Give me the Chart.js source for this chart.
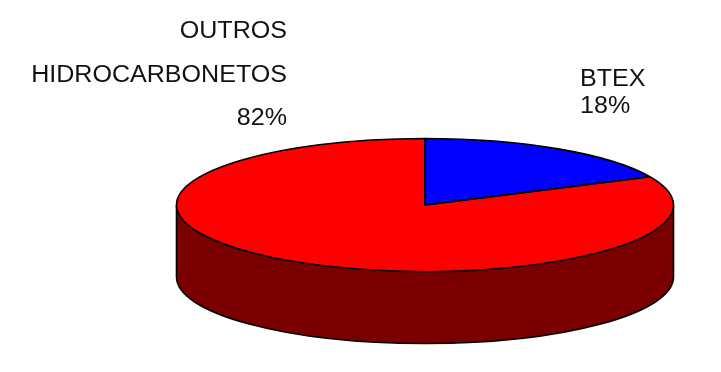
<!DOCTYPE html>
<html>
<head>
<meta charset="utf-8">
<script src="https://cdn.jsdelivr.net/npm/chart.js@4/dist/chart.umd.min.js"></script>
<style>
  html, body { margin: 0; padding: 0; background: #ffffff; }
  #wrap { width: 721px; height: 372px; position: relative; }
</style>
</head>
<body>
<div id="wrap"><canvas id="pie"></canvas></div>
<script>
// Composition of the hydrocarbon fraction (%)
const categories = [['BTEX'], ['OUTROS', 'HIDROCARBONETOS']];
const shares = [18, 82];
const topColors = ['#0000ff', '#ff0000'];
const sideColors = ['#00007a', '#7a0000'];

// Flattened-disc geometry for the 3-D look
const DISC = { rx: 248.5, ry: 66.5, depth: 72, line: 1.6 };

// Label placement: anchor x, first baseline, line step, alignment
const LABEL_POS = [
  { x: 580, y: 86, step: 27, align: 'left' },
  { x: 287, y: 38, step: 43.5, align: 'right' }
];

function arcRanges(s, e) {
  // parts of [s,e] that face the viewer (canvas angles 0..PI, repeated every 2PI)
  const out = [];
  for (let k = -1; k <= 2; k++) {
    const a = Math.max(s, k * 2 * Math.PI);
    const b = Math.min(e, k * 2 * Math.PI + Math.PI);
    if (b > a) out.push([a, b]);
  }
  return out;
}

const disc3d = {
  id: 'disc3d',
  beforeDatasetsDraw(chart) {
    const ctx = chart.ctx;
    const arcs = chart.getDatasetMeta(0).data;
    if (!arcs.length) return;
    const cx = arcs[0].x, cy = arcs[0].y, r = arcs[0].outerRadius;
    const { rx, ry, depth } = DISC;
    // side wall of every slice that faces the viewer
    ctx.save();
    arcs.forEach((arc, i) => {
      arcRanges(arc.startAngle, arc.endAngle).forEach(([a, b]) => {
        ctx.beginPath();
        ctx.ellipse(cx, cy, rx, ry, 0, a, b);
        ctx.lineTo(cx + rx * Math.cos(b), cy + ry * Math.sin(b) + depth);
        ctx.ellipse(cx, cy + depth, rx, ry, 0, b, a, true);
        ctx.closePath();
        ctx.fillStyle = sideColors[i];
        ctx.fill();
      });
    });
    ctx.strokeStyle = '#000';
    ctx.lineWidth = DISC.line;
    ctx.beginPath();
    ctx.ellipse(cx, cy + depth, rx, ry, 0, 0, Math.PI);
    ctx.stroke();
    ctx.beginPath();
    ctx.moveTo(cx - rx, cy); ctx.lineTo(cx - rx, cy + depth);
    ctx.moveTo(cx + rx, cy); ctx.lineTo(cx + rx, cy + depth);
    ctx.stroke();
    ctx.restore();
    // squash the library's round pie into the top ellipse
    ctx.save();
    ctx.translate(cx, cy);
    ctx.scale(rx / r, ry / r);
    ctx.translate(-cx, -cy);
  },
  afterDatasetsDraw(chart) {
    const ctx = chart.ctx;
    ctx.restore();
    const arcs = chart.getDatasetMeta(0).data;
    if (!arcs.length) return;
    const cx = arcs[0].x, cy = arcs[0].y;
    const { rx, ry } = DISC;
    ctx.save();
    ctx.strokeStyle = '#000';
    ctx.lineWidth = DISC.line;
    ctx.lineJoin = 'round';
    arcs.forEach(arc => {
      ctx.beginPath();
      ctx.moveTo(cx, cy);
      ctx.ellipse(cx, cy, rx, ry, 0, arc.startAngle, arc.endAngle);
      ctx.closePath();
      ctx.stroke();
    });
    ctx.restore();
  },
  afterDraw(chart) {
    const ctx = chart.ctx;
    ctx.save();
    ctx.fillStyle = '#111';
    ctx.font = "23px 'Liberation Sans', Arial, sans-serif";
    ctx.textBaseline = 'alphabetic';
    categories.forEach((lines, i) => {
      const p = LABEL_POS[i];
      const text = lines.concat([shares[i] + '%']);
      text.forEach((t, j) => {
        ctx.save();
        ctx.translate(p.x, p.y + j * p.step);
        ctx.scale(1.09, 1);
        ctx.textAlign = p.align;
        ctx.fillText(t, 0, 0);
        ctx.restore();
      });
    });
    ctx.restore();
  }
};

new Chart(document.getElementById('pie'), {
  type: 'pie',
  data: {
    labels: categories.map(l => l.join(' ')),
    datasets: [{
      data: shares,
      backgroundColor: topColors,
      borderWidth: 0,
      clip: false
    }]
  },
  options: {
    responsive: true,
    maintainAspectRatio: false,
    animation: false,
    events: [],
    layout: { padding: { left: 325, right: 196, top: 105, bottom: 67 } },
    plugins: { legend: { display: false }, tooltip: { enabled: false } }
  },
  plugins: [disc3d]
});
</script>
</body>
</html>
